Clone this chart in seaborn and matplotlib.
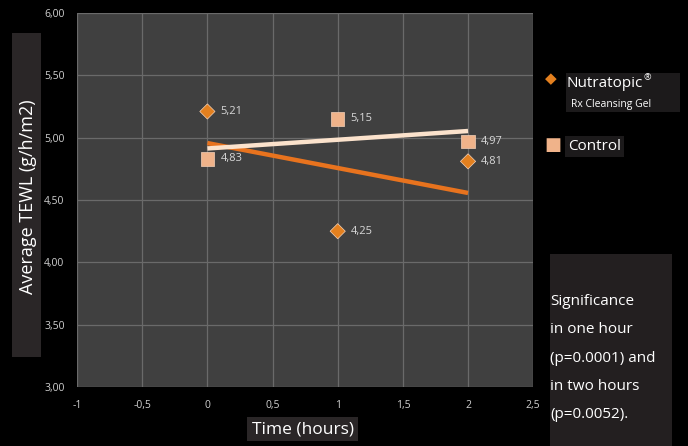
import matplotlib
matplotlib.use("Agg")
import matplotlib.pyplot as plt
from matplotlib.ticker import FuncFormatter
import seaborn as sns
import pandas as pd

# dados
hours = [0, 1, 2]
nutratopic = [5.21, 4.25, 4.81]
control = [4.83, 5.15, 4.97]
series_names = ["Nutratopic", "Control"]

df = pd.DataFrame({
    "hours": hours * 2,
    "tewl": nutratopic + control,
    "group": [series_names[0]] * 3 + [series_names[1]] * 3,
})

sns.set_style("dark")
plt.rcParams["font.family"] = ["Open Sans", "DejaVu Sans"]

fig = plt.figure(figsize=(6.88, 4.46), dpi=100, facecolor="black")
ax = fig.add_axes([0.112, 0.132, 0.663, 0.839])
ax.set_facecolor("#404040")

# linhas de tendencia
sns.regplot(x=hours, y=nutratopic, ci=None, scatter=False, ax=ax,
            line_kws=dict(color="#e8731e", lw=3.2, solid_capstyle="butt"))
sns.regplot(x=hours, y=control, ci=None, scatter=False, ax=ax,
            line_kws=dict(color="#fbe2cc", lw=3.2, solid_capstyle="butt"))

# pontos
sns.scatterplot(data=df, x="hours", y="tewl", hue="group", style="group",
                markers={"Nutratopic": "D", "Control": "s"},
                palette={"Nutratopic": "#e3801f", "Control": "#f0b38a"},
                s=[60, 60, 60, 95, 95, 95],
                edgecolor="#f6d2b8", linewidth=0.5, legend=False, ax=ax,
                zorder=5)

for x, y in zip(hours, nutratopic):
    ax.text(x + 0.1, y, f"{y:.2f}".replace(".", ","), color="#d8d8d8",
            fontsize=8, va="center", ha="left")
for x, y in zip(hours, control):
    ax.text(x + 0.1, y, f"{y:.2f}".replace(".", ","), color="#d8d8d8",
            fontsize=8, va="center", ha="left")

ax.set_xlim(-1, 2.5)
ax.set_ylim(3.0, 6.0)
ax.set_xticks([-1, -0.5, 0, 0.5, 1, 1.5, 2, 2.5])
ax.set_yticks([3.0, 3.5, 4.0, 4.5, 5.0, 5.5, 6.0])
ax.xaxis.set_major_formatter(FuncFormatter(lambda v, p: f"{v:g}".replace(".", ",")))
ax.yaxis.set_major_formatter(FuncFormatter(lambda v, p: f"{v:.2f}".replace(".", ",")))
ax.tick_params(colors="#d0d0d0", labelsize=7.5, length=0, pad=9)
ax.grid(True, color="#6a6a6a", lw=0.9)
ax.set_axisbelow(True)
for s in ax.spines.values():
    s.set_visible(False)
ax.set_xlabel("")
ax.set_ylabel("")

# rotulos dos eixos com caixa
fig.patches.append(plt.Rectangle((0.017, 0.2), 0.042, 0.726, transform=fig.transFigure,
                                 fc="#2a2627", ec="none"))
fig.text(0.040, 0.56, "Average TEWL (g/h/m2)", rotation=90, color="white",
         fontsize=13, ha="center", va="center")
fig.text(0.44, 0.038, "Time (hours)", color="white", fontsize=12.5,
         ha="center", va="center",
         bbox=dict(boxstyle="square,pad=0.25", fc="#2a2627", ec="none"))

# legenda
fig.text(0.800, 0.822, "\u25C6", color="#e3801f", fontsize=11, ha="center", va="center")
fig.patches.append(plt.Rectangle((0.822, 0.748), 0.166, 0.088, transform=fig.transFigure,
                                 fc="#1c1a1b", ec="none"))
fig.text(0.824, 0.812, "Nutratopic", color="white",
         fontsize=11, ha="left", va="center")
fig.text(0.936, 0.826, "\u00ae", color="white",
         fontsize=6.5, ha="left", va="center")
fig.text(0.830, 0.765, "Rx Cleansing Gel", color="white",
         fontsize=7.5, ha="left", va="center")
fig.text(0.804, 0.674, "\u25A0", color="#f0b38a", fontsize=13, ha="center", va="center")
fig.text(0.826, 0.672, "Control", color="white", fontsize=11,
         ha="left", va="center",
         bbox=dict(boxstyle="square,pad=0.2", fc="#1c1a1b", ec="none"))

# caixa de significancia
fig.patches.append(plt.Rectangle((0.800, 0.0), 0.177, 0.43, transform=fig.transFigure,
                                 fc="#231f20", ec="none"))
fig.text(0.800, 0.197, "Significance\nin one hour\n(p=0.0001) and\nin two hours\n(p=0.0052).",
         color="white", fontsize=11, ha="left", va="center", linespacing=2.2)

fig.savefig("out.png", dpi=100, facecolor="black")
